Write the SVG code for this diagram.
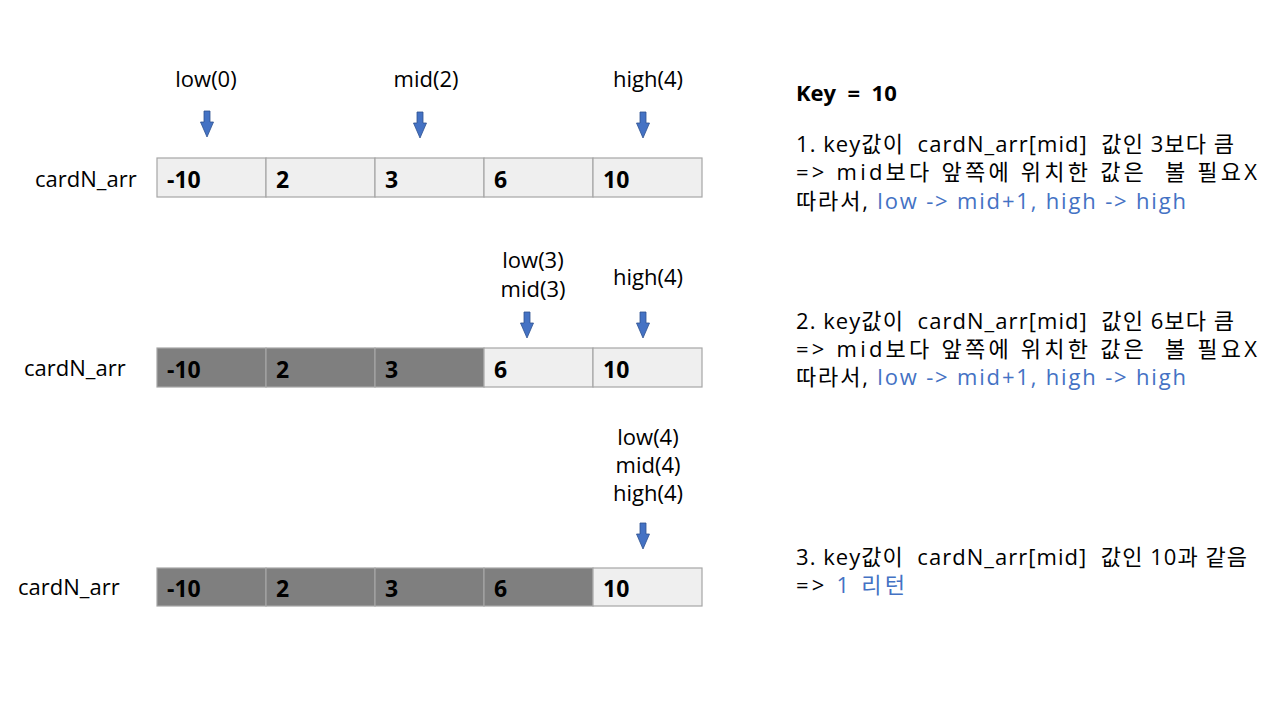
<svg xmlns="http://www.w3.org/2000/svg" width="1280" height="720" viewBox="0 0 1280 720">
<defs>
<style>
text{font-family:"Open Sans","Noto Sans CJK KR",sans-serif;font-size:22px;fill:#000}
.lbl{text-anchor:middle}
.num{font-weight:bold;font-size:23px}
.key{font-weight:bold}
.blue{fill:#4472C4}
.light{fill:#efefef;stroke:#a6a6a6;stroke-width:1.2}
.dark{fill:#7f7f7f;stroke:#a6a6a6;stroke-width:1.2}
.arr{fill:#4472C4;stroke:#2F528F;stroke-width:0.8}
</style>
<path id="down" d="M-3,-13 H3 V-2 H6.5 L0,13 L-6.5,-2 H-3 Z"/>
</defs>
<rect width="1280" height="720" fill="#fff"/>
<g id="connectors">
<use href="#down" class="arr" x="207" y="124"/>
<use href="#down" class="arr" x="420" y="125"/>
<use href="#down" class="arr" x="643" y="125"/>
<use href="#down" class="arr" x="527" y="325"/>
<use href="#down" class="arr" x="643" y="325"/>
<use href="#down" class="arr" x="643" y="536"/>
</g>
<g id="pointer-labels">
<text class="lbl" x="206" y="87">low(0)</text>
<text class="lbl" x="426" y="87">mid(2)</text>
<text class="lbl" x="648" y="87">high(4)</text>
<text class="lbl" x="533" y="268">low(3)</text>
<text class="lbl" x="533" y="297">mid(3)</text>
<text class="lbl" x="648" y="285">high(4)</text>
<text class="lbl" x="648" y="445">low(4)</text>
<text class="lbl" x="648" y="473">mid(4)</text>
<text class="lbl" x="648" y="501">high(4)</text>
</g>
<g id="array1">
<text x="35" y="187">cardN_arr</text>
<rect class="light" x="157" y="158" width="109" height="39"/>
<rect class="light" x="266" y="158" width="109" height="39"/>
<rect class="light" x="375" y="158" width="109" height="39"/>
<rect class="light" x="484" y="158" width="109" height="39"/>
<rect class="light" x="593" y="158" width="109" height="39"/>
<text class="num" x="167" y="188">-10</text>
<text class="num" x="276" y="188">2</text>
<text class="num" x="385" y="188">3</text>
<text class="num" x="494" y="188">6</text>
<text class="num" x="603" y="188">10</text>
</g>
<g id="array2">
<text x="24" y="376">cardN_arr</text>
<rect class="dark" x="157" y="348" width="109" height="39"/>
<rect class="dark" x="266" y="348" width="109" height="39"/>
<rect class="dark" x="375" y="348" width="109" height="39"/>
<rect class="light" x="484" y="348" width="109" height="39"/>
<rect class="light" x="593" y="348" width="109" height="39"/>
<text class="num" x="167" y="378">-10</text>
<text class="num" x="276" y="378">2</text>
<text class="num" x="385" y="378">3</text>
<text class="num" x="494" y="378">6</text>
<text class="num" x="603" y="378">10</text>
</g>
<g id="array3">
<text x="18" y="595">cardN_arr</text>
<rect class="dark" x="157" y="568" width="109" height="38"/>
<rect class="dark" x="266" y="568" width="109" height="38"/>
<rect class="dark" x="375" y="568" width="109" height="38"/>
<rect class="dark" x="484" y="568" width="109" height="38"/>
<rect class="light" x="593" y="568" width="109" height="38"/>
<text class="num" x="167" y="597">-10</text>
<text class="num" x="276" y="597">2</text>
<text class="num" x="385" y="597">3</text>
<text class="num" x="494" y="597">6</text>
<text class="num" x="603" y="597">10</text>
</g>
<g id="explanation">
<text class="key" x="796" y="101" xml:space="preserve">Key  =  10</text>
<text x="796" y="152" xml:space="preserve" textLength="438" lengthAdjust="spacing">1. key값이  cardN_arr[mid]  값인 3보다 큼</text>
<text x="796" y="180" xml:space="preserve" textLength="461" lengthAdjust="spacing">=&gt; mid보다 앞쪽에 위치한 값은  볼 필요X</text>
<text x="796" y="209" textLength="390" lengthAdjust="spacing">따라서, <tspan class="blue">low -&gt; mid+1, high -&gt; high</tspan></text>
<text x="796" y="329" xml:space="preserve" textLength="438" lengthAdjust="spacing">2. key값이  cardN_arr[mid]  값인 6보다 큼</text>
<text x="796" y="357" xml:space="preserve" textLength="461" lengthAdjust="spacing">=&gt; mid보다 앞쪽에 위치한 값은  볼 필요X</text>
<text x="796" y="385" textLength="390" lengthAdjust="spacing">따라서, <tspan class="blue">low -&gt; mid+1, high -&gt; high</tspan></text>
<text x="796" y="565" xml:space="preserve" textLength="451" lengthAdjust="spacing">3. key값이  cardN_arr[mid]  값인 10과 같음</text>
<text x="796" y="593" textLength="109" lengthAdjust="spacing">=&gt; <tspan class="blue">1 리턴</tspan></text>
</g>
</svg>
